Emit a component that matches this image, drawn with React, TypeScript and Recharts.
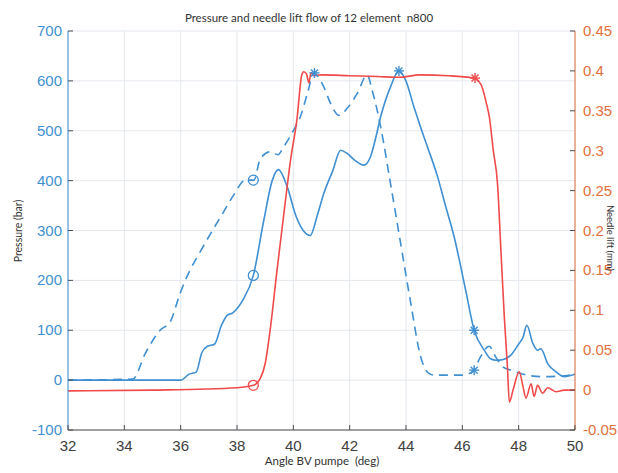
import { ComposedChart, Line, Scatter, XAxis, YAxis, CartesianGrid } from 'recharts';

const X_TICKS = [32, 34, 36, 38, 40, 42, 44, 46, 48, 50];
const PRESSURE_TICKS = [-100, 0, 100, 200, 300, 400, 500, 600, 700];
const LIFT_TICKS = [-0.05, 0, 0.05, 0.1, 0.15, 0.2, 0.25, 0.3, 0.35, 0.4, 0.45];

// solid blue: pressure, element 1
const solidAngle = [
  32, 36.0, 36.3, 36.55, 36.75, 36.95, 37.2, 37.45, 37.65, 37.85, 38.2, 38.58, 38.95, 39.25,
  39.47, 39.78, 40.1, 40.35, 40.6, 40.85, 41.08, 41.4, 41.68, 41.9, 42.2, 42.5, 42.74, 42.9,
  43.1, 43.45, 43.75, 43.99, 44.28, 44.5, 44.76, 45.12, 45.4, 45.71, 46.12, 46.42, 46.78,
  47.0, 47.2, 47.43, 47.72, 48.02, 48.15, 48.29, 48.5, 48.67, 48.79, 49.03, 49.32, 49.62, 50,
];
const solidPressure = [
  0, 0, 12, 16, 55, 68, 72, 110, 130, 135, 160, 210, 320, 400,
  422, 388, 328, 300, 290, 330, 374, 420, 461, 455, 440, 431, 448, 480,
  528, 588, 620, 601, 548, 510, 468, 408, 350, 287, 180, 100, 60,
  43, 40, 41, 50, 74, 85, 110, 74, 60, 63, 33, 17, 7, 12,
];

// dashed blue: pressure, element 2
const dashedAngle = [
  32, 34.3, 34.74, 35.27, 35.63, 35.98, 36.22, 36.7, 37.17, 37.5, 37.88, 38.3, 38.6, 38.83,
  39.19, 39.45, 39.66, 40.0, 40.25, 40.5, 40.73, 41.08, 41.32, 41.62, 41.91, 42.27, 42.62,
  42.8, 43.1, 43.45, 43.81, 44.17, 44.52, 44.8, 45.0, 46.0, 46.2, 46.4, 46.66, 46.95, 47.2,
  47.43, 47.78, 48.3, 48.79, 49.5, 50,
];
const dashedPressure = [
  0, 2, 53, 100, 117, 174, 207, 258, 304, 335, 371, 401, 401, 444,
  458, 452, 468, 500, 528, 575, 615, 588, 555, 531, 545, 575, 612,
  581, 508, 394, 274, 154, 47, 14, 10, 10, 12, 20, 48, 68, 45,
  27, 19, 10, 7, 8, 12,
];

// red: needle lift
const liftAngle = [
  32, 35, 38.0, 38.58, 38.83, 39.0, 39.19, 39.42, 39.66, 39.9, 40.13, 40.3, 40.37, 40.47,
  40.55, 40.63, 40.73, 41.0, 42.0, 43.0, 43.75, 44.5, 45.5, 46.4, 46.66, 46.85, 46.96, 47.1,
  47.25, 47.37, 47.49, 47.6, 47.67, 47.8, 48.02, 48.15, 48.26, 48.44, 48.55, 48.67, 48.85,
  49.03, 49.32, 49.62, 50,
];
const liftValue = [
  -0.001, 0.0, 0.003, 0.006, 0.015, 0.033, 0.079, 0.15, 0.22, 0.288, 0.34, 0.395, 0.399, 0.396,
  0.385, 0.398, 0.394, 0.395, 0.394, 0.393, 0.392, 0.395, 0.394, 0.391, 0.383, 0.36, 0.342, 0.3,
  0.258, 0.175, 0.092, 0.03, -0.015, 0.0, 0.023, 0.005, -0.01, 0.008, -0.008, 0.006, -0.004,
  0.003, -0.002, 0.0, 0.0,
];

// markers
const circleAngle = [38.58, 38.58];
const circlePressure = [210, 401];
const circleLiftAngle = [38.58];
const circleLift = [0.006];
const starAngle = [40.75, 43.75, 46.42, 46.42];
const starPressure = [616, 620, 100, 20];
const starLiftAngle = [46.45];
const starLift = [0.391];

const BLUE = '#3f8fd2';
const RED = '#f04a4a';
const ORANGE = '#e2703c';
const AXIS = '#4d4d4d';
const FONT = '"Liberation Sans", Arial, sans-serif';

const zip = (xs: number[], ys: number[]) => xs.map((x, i) => ({ x, y: ys[i] }));

const solidData = zip(solidAngle, solidPressure);
const dashedData = zip(dashedAngle, dashedPressure);
const liftData = zip(liftAngle, liftValue);
const circleData = zip(circleAngle, circlePressure);
const circleLiftData = zip(circleLiftAngle, circleLift);
const starData = zip(starAngle, starPressure);
const starLiftData = zip(starLiftAngle, starLift);

const fmtLift = (v: number) => Number(v.toFixed(2)).toString();

function circleShape(color: string) {
  return (props: any) => (
    <circle cx={props.cx} cy={props.cy} r={5} fill="none" stroke={color} strokeWidth={1.3} />
  );
}

function starShape(color: string) {
  return (props: any) => {
    const { cx, cy } = props;
    const r = 5;
    const d = 3.5;
    return (
      <g stroke={color} strokeWidth={1.4}>
        <line x1={cx - r} y1={cy} x2={cx + r} y2={cy} />
        <line x1={cx} y1={cy - r} x2={cx} y2={cy + r} />
        <line x1={cx - d} y1={cy - d} x2={cx + d} y2={cy + d} />
        <line x1={cx - d} y1={cy + d} x2={cx + d} y2={cy - d} />
      </g>
    );
  };
}

function LeftTick(props: any) {
  const { x, y, payload } = props;
  return (
    <g>
      <line x1={x} y1={y} x2={x + 5} y2={y} stroke={AXIS} />
      <text x={x - 6} y={y + 5} textAnchor="end" fill={BLUE} fontSize={15} fontFamily={FONT}>
        {payload.value}
      </text>
    </g>
  );
}

function RightTick(props: any) {
  const { x, y, payload } = props;
  return (
    <g>
      <line x1={x - 5} y1={y} x2={x} y2={y} stroke={AXIS} />
      <text x={x + 8} y={y + 5} textAnchor="start" fill={ORANGE} fontSize={15} fontFamily={FONT}>
        {fmtLift(payload.value)}
      </text>
    </g>
  );
}

function BottomTick(props: any) {
  const { x, y, payload } = props;
  return (
    <g>
      <line x1={x} y1={y - 5} x2={x} y2={y} stroke={AXIS} />
      <text x={x} y={y + 21} textAnchor="middle" fill="#404040" fontSize={15} fontFamily={FONT}>
        {payload.value}
      </text>
    </g>
  );
}

function TopTick(props: any) {
  const { x, y } = props;
  return <line x1={x} y1={y} x2={x} y2={y + 5} stroke={AXIS} />;
}

export default function App() {
  return (
    <div style={{ position: 'absolute', left: 0, top: 0, width: 618, height: 473, background: '#fff', overflow: 'hidden' }}>
      <ComposedChart width={618} height={473} margin={{ top: 31, right: 0, bottom: 0, left: 0 }}>
        <CartesianGrid stroke="#e3e8ee" xAxisId="bottom" yAxisId="pressure" />
        <XAxis
          xAxisId="bottom"
          type="number"
          dataKey="x"
          domain={[32, 50]}
          ticks={X_TICKS}
          height={43}
          tickSize={0}
          tickMargin={0}
          tick={<BottomTick />}
          tickLine={false}
          axisLine={{ stroke: AXIS }}
          allowDataOverflow
        />
        <XAxis
          xAxisId="top"
          orientation="top"
          type="number"
          dataKey="x"
          domain={[32, 50]}
          ticks={X_TICKS}
          height={0}
          tickSize={0}
          tickMargin={0}
          tick={<TopTick />}
          tickLine={false}
          axisLine={{ stroke: AXIS }}
          allowDataOverflow
        />
        <YAxis
          yAxisId="pressure"
          dataKey="y"
          domain={[-100, 700]}
          ticks={PRESSURE_TICKS}
          width={68}
          tickSize={0}
          tickMargin={0}
          tick={<LeftTick />}
          tickLine={false}
          axisLine={{ stroke: BLUE }}
          allowDataOverflow
        />
        <YAxis
          yAxisId="lift"
          orientation="right"
          dataKey="y"
          domain={[-0.05, 0.45]}
          ticks={LIFT_TICKS}
          width={43}
          tickSize={0}
          tickMargin={0}
          tick={<RightTick />}
          tickLine={false}
          axisLine={{ stroke: ORANGE }}
          allowDataOverflow
        />
        <Line
          xAxisId="bottom"
          yAxisId="pressure"
          data={dashedData}
          dataKey="y"
          type="monotone"
          stroke={BLUE}
          strokeWidth={1.6}
          strokeDasharray="9 6"
          dot={false}
          isAnimationActive={false}
        />
        <Line
          xAxisId="bottom"
          yAxisId="pressure"
          data={solidData}
          dataKey="y"
          type="monotone"
          stroke={BLUE}
          strokeWidth={1.6}
          dot={false}
          isAnimationActive={false}
        />
        <Line
          xAxisId="bottom"
          yAxisId="lift"
          data={liftData}
          dataKey="y"
          type="monotone"
          stroke={RED}
          strokeWidth={1.6}
          dot={false}
          isAnimationActive={false}
        />
        <Scatter xAxisId="bottom" yAxisId="pressure" data={circleData} dataKey="y" shape={circleShape(BLUE)} isAnimationActive={false} />
        <Scatter xAxisId="bottom" yAxisId="pressure" data={starData} dataKey="y" shape={starShape(BLUE)} isAnimationActive={false} />
        <Scatter xAxisId="bottom" yAxisId="lift" data={circleLiftData} dataKey="y" shape={circleShape(RED)} isAnimationActive={false} />
        <Scatter xAxisId="bottom" yAxisId="lift" data={starLiftData} dataKey="y" shape={starShape(RED)} isAnimationActive={false} />
      </ComposedChart>
      <div
        style={{
          position: 'absolute', left: 0, top: 11, width: 618, textAlign: 'center',
          fontFamily: 'Lato, sans-serif', fontSize: 11.5, color: '#333', whiteSpace: 'pre',
        }}
      >
        {'Pressure and needle lift flow of 12 element  n800'}
      </div>
      <div
        style={{
          position: 'absolute', left: 0, top: 454, width: 618, textAlign: 'center',
          fontFamily: 'Lato, sans-serif', fontSize: 11.5, color: '#333', whiteSpace: 'pre', paddingLeft: 26,
          boxSizing: 'border-box',
        }}
      >
        {'Angle BV pumpe  (deg)'}
      </div>
      <div
        style={{
          position: 'absolute', left: 18, top: 231, transform: 'translate(-50%, -50%) rotate(-90deg)',
          fontFamily: 'Lato, sans-serif', fontSize: 10.5, color: '#333', whiteSpace: 'pre',
        }}
      >
        {'Pressure (bar)'}
      </div>
      <div
        style={{
          position: 'absolute', left: 610, top: 238, transform: 'translate(-50%, -50%) rotate(90deg)',
          fontFamily: 'Lato, sans-serif', fontSize: 9.5, lineHeight: '11px', color: '#333', whiteSpace: 'pre',
        }}
      >
        {'Needle lift (mm)'}
      </div>
    </div>
  );
}
